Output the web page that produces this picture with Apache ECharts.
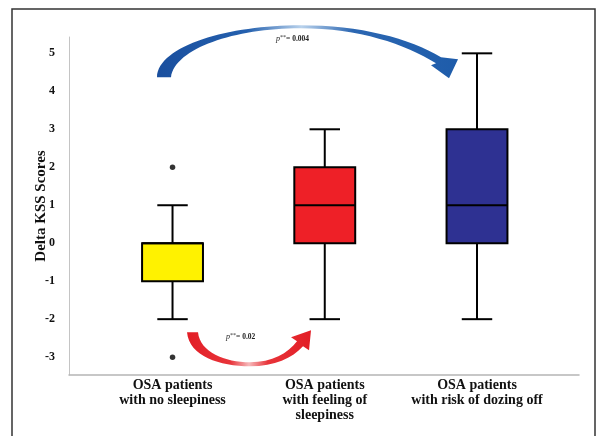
<!DOCTYPE html>
<html>
<head>
<meta charset="utf-8">
<script src="https://cdn.jsdelivr.net/npm/echarts@6/dist/echarts.min.js"></script>
<style>
  html, body { margin: 0; padding: 0; background: #fff; }
  #main { width: 598px; height: 436px; }
</style>
</head>
<body>
<div id="main"></div>
<script>
var categories = ['OSA patients\nwith no sleepiness', 'OSA patients\nwith feeling of\nsleepiness', 'OSA patients\nwith risk of dozing off'];
// [min, Q1, median, Q3, max] per group
var boxValues = [
  [-2, -1, 0, 0, 1],
  [-2, 0, 1, 2, 3],
  [-2, 0, 1, 3, 5]
];
var boxColors = ['#FFF200', '#EE2027', '#2E3192'];
var outliers = [[1, 2], [1, -3]];
var yTicks = [-3, -2, -1, 0, 1, 2, 3, 4, 5];
var pTop = '0.004';
var pBottom = '0.02';

var font = '"Liberation Serif", "Times New Roman", serif';
var myChart = echarts.init(document.getElementById('main'));

var boxData = boxValues.map(function (v, i) { return [i + 1].concat(v).concat([i]); });

function renderBox(params, api) {
  var x = api.value(0);
  var pMin = api.coord([x, api.value(1)]);
  var pQ1 = api.coord([x, api.value(2)]);
  var pMed = api.coord([x, api.value(3)]);
  var pQ3 = api.coord([x, api.value(4)]);
  var pMax = api.coord([x, api.value(5)]);
  var half = api.size([0.2, 0])[0];
  var cap = api.size([0.1, 0])[0];
  var line = { stroke: '#000', lineWidth: 2 };
  return {
    type: 'group',
    children: [
      { type: 'line', shape: { x1: pMax[0], y1: pMax[1], x2: pQ3[0], y2: pQ3[1] }, style: line },
      { type: 'line', shape: { x1: pMin[0], y1: pMin[1], x2: pQ1[0], y2: pQ1[1] }, style: line },
      { type: 'line', shape: { x1: pMax[0] - cap, y1: pMax[1], x2: pMax[0] + cap, y2: pMax[1] }, style: line },
      { type: 'line', shape: { x1: pMin[0] - cap, y1: pMin[1], x2: pMin[0] + cap, y2: pMin[1] }, style: line },
      { type: 'rect', shape: { x: pQ3[0] - half, y: pQ3[1], width: half * 2, height: pQ1[1] - pQ3[1] },
        style: { fill: boxColors[api.value(6)], stroke: '#000', lineWidth: 2 } },
      { type: 'line', shape: { x1: pMed[0] - half, y1: pMed[1], x2: pMed[0] + half, y2: pMed[1] }, style: line }
    ]
  };
}

function pText(x, y, val) {
  return {
    type: 'text', x: x, y: y,
    style: {
      text: '{i|p}{s|**}{b|= ' + val + '}',
      verticalAlign: 'middle',
      rich: {
        i: { fontFamily: font, fontStyle: 'italic', fontSize: 8, fill: '#222' },
        s: { fontFamily: font, fontSize: 6, fill: '#222', padding: [0, 0, 4, 0] },
        b: { fontFamily: font, fontWeight: 'bold', fontSize: 7.5, fill: '#222' }
      }
    }
  };
}

// arrows drawn around pixel (172.5,53) = data (1,5) and moved with the axes
function renderArrows(params, api) {
  var o = api.coord([1, 5]);
  return {
    type: 'group', x: o[0] - 172.5, y: o[1] - 53,
    children: [
      {
        type: 'path',
        shape: {
          pathData: 'M 157 77 C 158 45 230 25 300 25 C 360 25 410 38 441 57 ' +
            'L 458 59 L 449 78 L 431 65 L 436 63 ' +
            'C 405 44 360 28 300 28 C 235 28 175 48 171 77 Z'
        },
        style: {
          fill: {
            type: 'linear', x: 0, y: 0, x2: 1, y2: 0,
            colorStops: [
              { offset: 0, color: '#1A4F9E' },
              { offset: 0.3, color: '#2460AE' },
              { offset: 0.48, color: '#B9D2EC' },
              { offset: 0.65, color: '#2C67B2' },
              { offset: 1, color: '#1E5CAA' }
            ]
          }
        }
      },
      {
        type: 'path',
        shape: {
          pathData: 'M 187 332 C 189 356 220 366 250 366 C 275 366 292 358 303 346 ' +
            'L 309 350 L 311 330 L 291 337 L 297 341 ' +
            'C 288 353 272 362 250 362 C 225 362 200 352 198 332 Z'
        },
        style: {
          fill: {
            type: 'linear', x: 0, y: 0, x2: 1, y2: 0,
            colorStops: [
              { offset: 0, color: '#E21D25' },
              { offset: 0.35, color: '#E8343A' },
              { offset: 0.5, color: '#F6B9BB' },
              { offset: 0.65, color: '#E8343A' },
              { offset: 1, color: '#E21D25' }
            ]
          }
        }
      },
      pText(276, 39, pTop),
      pText(226, 337, pBottom)
    ]
  };
}

var option = {
  animation: false,
  graphic: [{
    type: 'rect', shape: { x: 12, y: 9, width: 583, height: 440 },
    style: { fill: 'none', stroke: '#333', lineWidth: 1.5 }, silent: true
  }],
  grid: { left: 69, right: 19, top: 37, bottom: 61 },
  xAxis: {
    type: 'value',
    min: 0.32,
    max: 3.67,
    splitLine: { show: false },
    axisTick: { show: false },
    axisLine: { show: true, onZero: false, lineStyle: { color: '#b5b5b5', width: 1.5 } },
    axisLabel: {
      customValues: [1, 2, 3],
      formatter: function (v) { return categories[Math.round(v) - 1]; },
      fontFamily: font, fontWeight: 'bold', fontSize: 14, color: '#111',
      lineHeight: 15, margin: 3
    }
  },
  yAxis: {
    type: 'value',
    min: -3.47,
    max: 5.43,
    name: 'Delta KSS Scores',
    nameLocation: 'middle',
    nameGap: 20,
    nameMoveOverlap: false,
    nameRotate: 90,
    nameTextStyle: { fontFamily: font, fontWeight: 'bold', fontSize: 15, color: '#111' },
    splitLine: { show: false },
    axisTick: { show: false },
    axisLine: { show: true, onZero: false, lineStyle: { color: '#c4c4c4', width: 1 } },
    axisLabel: {
      customValues: yTicks,
      fontFamily: font, fontWeight: 'bold', fontSize: 12, color: '#111', margin: 14
    }
  },
  series: [
    {
      type: 'custom',
      renderItem: renderBox,
      data: boxData,
      encode: { x: 0, y: [1, 2, 3, 4, 5] },
      z: 2
    },
    {
      type: 'scatter',
      data: outliers,
      symbolSize: 5.5,
      itemStyle: { color: '#000' },
      z: 3
    },
    {
      type: 'custom',
      renderItem: renderArrows,
      data: [[1, 5]],
      silent: true,
      z: 4
    }
  ]
};
myChart.setOption(option);
</script>
</body>
</html>
